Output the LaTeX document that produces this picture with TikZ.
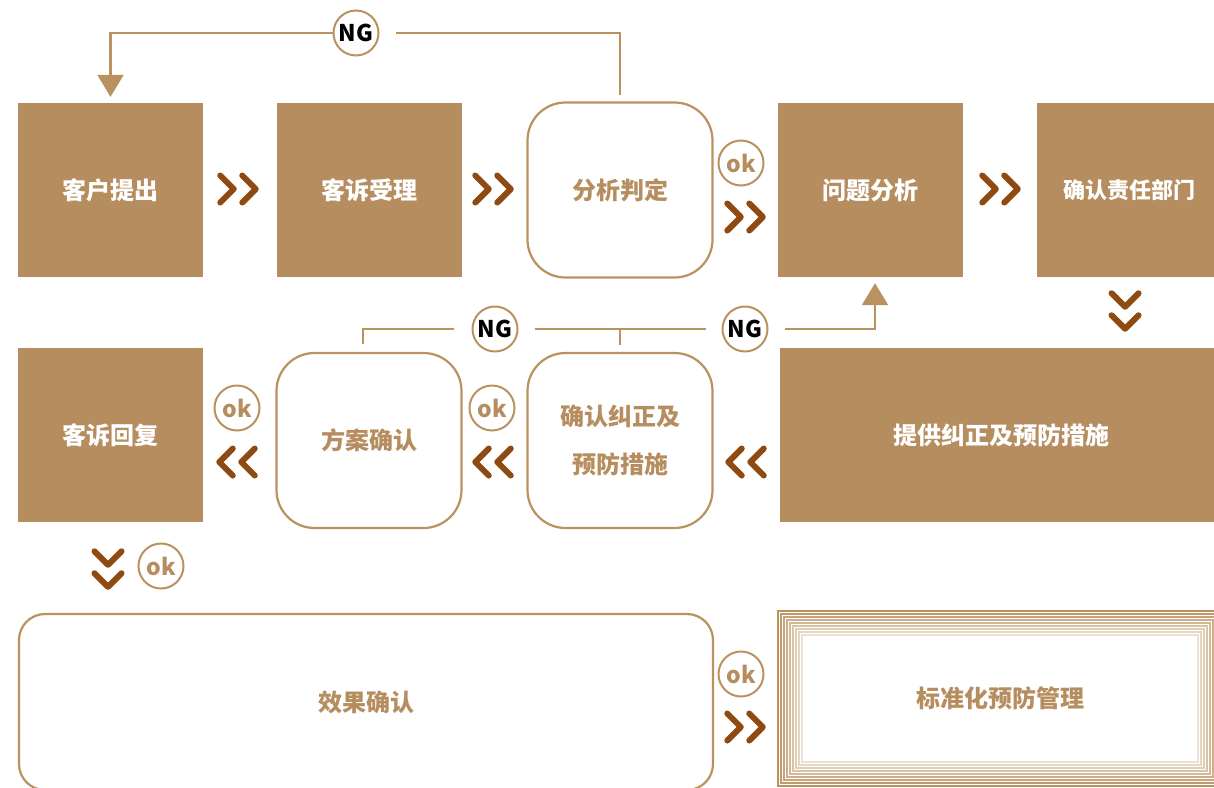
\documentclass[tikz,border=0pt]{standalone}
\usepackage{fontspec}
\newfontfamily\cjk{Noto Sans CJK SC}
\usetikzlibrary{arrows.meta,calc}
\definecolor{tanfill}{HTML}{B68D5F}
\definecolor{tanline}{HTML}{BA925F}
\definecolor{chev}{HTML}{8E4A10}
\begin{document}
\begin{tikzpicture}[x=1pt,y=-1pt,
  cjkfont/.style={font=\cjk\bfseries\fontsize{24}{48}\selectfont},
  fillbox/.style={rectangle, fill=tanfill, text=white, cjkfont, minimum width=185pt, minimum height=174pt, inner sep=0pt, align=center},
  roundbox/.style={rectangle, rounded corners=38pt, draw=tanline, line width=2.2pt, text=tanfill, cjkfont, minimum width=185pt, minimum height=175pt, inner sep=0pt, align=center},
  okc/.style={circle, draw=tanline, line width=2pt, fill=white, minimum size=45pt, inner sep=0pt, text=tanfill, font=\cjk\bfseries\fontsize{23}{24}\selectfont},
  ngc/.style={okc, text=black},
  conn/.style={draw=tanline, line width=2.5pt},
  tiptri/.style={-{Triangle[width=26pt,length=22pt]}},
  chevline/.style={draw=chev, line width=6pt, line cap=round, line join=round},
  rchev/.pic={\draw[chevline] (-17.75,-13.5) -- (-4.25,0) -- (-17.75,13.5) (4.25,-13.5) -- (17.75,0) -- (4.25,13.5);},
  lchev/.pic={\draw[chevline] (17.75,-13.5) -- (4.25,0) -- (17.75,13.5) (-4.25,-13.5) -- (-17.75,0) -- (-4.25,13.5);},
  dchev/.pic={\draw[chevline] (-13.5,-17.75) -- (0,-4.25) -- (13.5,-17.75) (-13.5,4.25) -- (0,17.75) -- (13.5,4.25);},
]
\useasboundingbox (0,0) rectangle (1214,787);
\fill[white] (0,0) rectangle (1214,787);
\clip (0,0) rectangle (1214,787);

% row 1
\node[fillbox] (kh) at (110.5,190) {客户提出};
\node[fillbox] (ks) at (369.5,190) {客诉受理};
\node[roundbox] (fx) at (620,190) {分析判定};
\node[fillbox] (wt) at (870.5,190) {问题分析};
\node[fillbox, font=\cjk\bfseries\fontsize{22}{26}\selectfont] (qr) at (1129.5,190) {确认责任部门};

% row 2
\node[fillbox] (kf) at (110.5,435) {客诉回复};
\node[roundbox] (fa) at (369,440.5) {方案确认};
\node[roundbox] (qj) at (620,440.5) {确认纠正及\\预防措施};
\node[fillbox, minimum width=442pt] (tg) at (1001,435) {提供纠正及预防措施};

% row 3
\node[roundbox, rounded corners=26pt, minimum width=694pt, minimum height=176pt] (xg) at (366,702) {效果确认};
\node[rectangle, minimum width=444pt, minimum height=175pt, inner sep=0pt, text=tanfill, cjkfont] (bz) at (1000,698.5) {标准化预防管理};
\foreach \i in {0,...,8}{
  \pgfmathtruncatemacro\cc{100-\i*9}
  \draw[tanline!\cc!white, line width=1.6pt] ($(bz.north west)+(\i*3,\i*3)$) rectangle ($(bz.south east)+(-\i*3,-\i*3)$);
}

% circles
\node[ngc] (ng1) at (356,33) {NG};
\node[ngc] (ng2) at (495,329) {NG};
\node[ngc] (ng3) at (745,329) {NG};
\node[okc] (ok1) at (741,163) {ok};
\node[okc] (ok2) at (492,408) {ok};
\node[okc] (ok3) at (237,408) {ok};
\node[okc] (ok4) at (161,566) {ok};
\node[okc] (ok5) at (741,674) {ok};

% NG connectors
\draw[conn, shorten <=6pt, shorten >=16pt] (fx.north) |- (ng1.east);
\draw[conn, tiptri, shorten >=6pt] (ng1.west) -| (kh.north);
\coordinate (fa1) at ($(fa.north)+(-6,-8)$);
\draw[conn, shorten >=18pt] (fa1) |- (ng2.west);
\draw[conn, shorten <=16pt, shorten >=16pt] (ng2.east) -- (ng3.west);
\draw[conn, tiptri, shorten <=16pt, shorten >=6pt] (ng3.east) -| ([xshift=4.5pt]wt.south);
\draw[conn, shorten <=7pt] (qj.north) -- (qj.north |- ng2.east);

% chevrons
\pic at (238,189) {rchev};
\pic at (493,189) {rchev};
\pic at (745,217) {rchev};
\pic at (1000,189) {rchev};
\pic at (1125,311) {dchev};
\pic at (746,462) {lchev};
\pic at (493,462) {lchev};
\pic at (237,462) {lchev};
\pic at (108,569) {dchev};
\pic at (745,727) {rchev};
\end{tikzpicture}
\end{document}
